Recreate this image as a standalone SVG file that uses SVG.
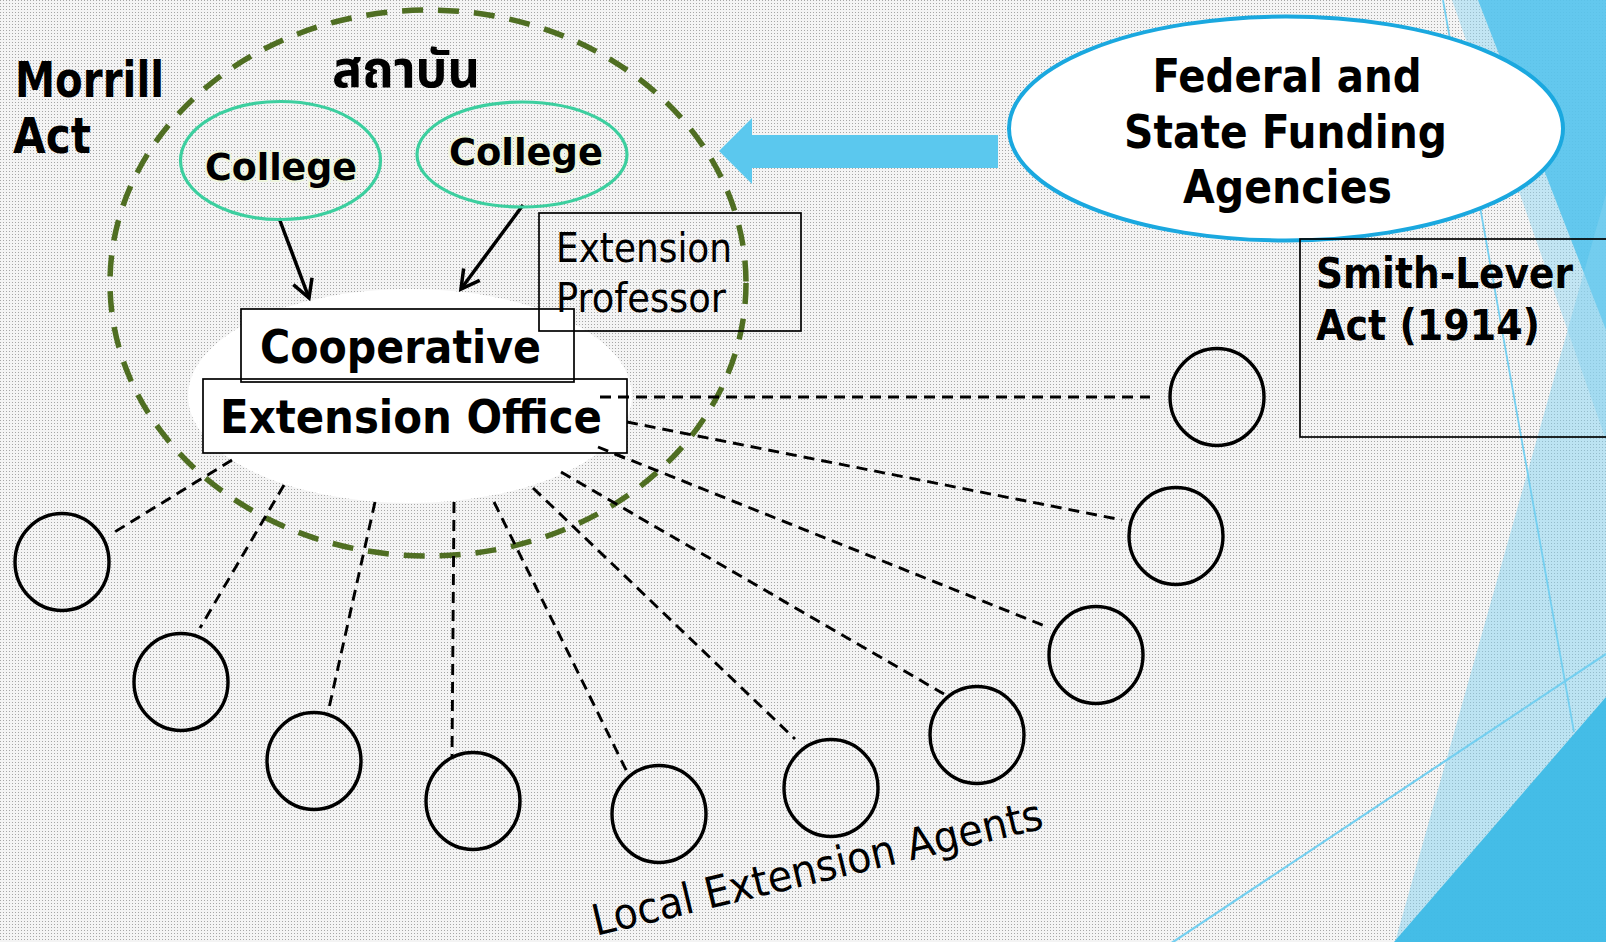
<svg xmlns="http://www.w3.org/2000/svg" width="1606" height="942" viewBox="0 0 1606 942">
<defs>
<pattern id="dots" width="3" height="3" patternUnits="userSpaceOnUse">
<rect width="3" height="3" fill="#f4f4f4"/>
<rect width="1" height="1" fill="#a6a6a6"/>
</pattern>
<marker id="open" markerUnits="userSpaceOnUse" markerWidth="26" markerHeight="26" viewBox="0 0 26 26" refX="22" refY="13" orient="auto">
<path d="M4,3 L22,13 L4,23" fill="none" stroke="#000" stroke-width="3.5" stroke-linejoin="miter"/>
</marker>
<style>
.b{font-family:"DejaVu Sans","Noto Sans",sans-serif;font-weight:bold;font-stretch:condensed;fill:#000}
.r{font-family:"DejaVu Sans","Noto Sans",sans-serif;font-weight:normal;font-stretch:condensed;fill:#000}
.th{font-family:"Noto Sans Thai","Tahoma","DejaVu Sans","Noto Sans",sans-serif;font-weight:bold;fill:#000}
.agent{fill:none;stroke:#000;stroke-width:3.4}
.dash{stroke:#000;stroke-width:2.9;stroke-dasharray:11 7;fill:none}
.college{fill:none;stroke:#3ccf9f;stroke-width:3.2}
.box{fill:none;stroke:#000;stroke-width:1.7}
.halo{paint-order:stroke;stroke:#eef5dc;stroke-width:4;stroke-linejoin:round}
</style>
</defs>

<!-- background -->
<rect width="1606" height="942" fill="url(#dots)"/>

<!-- theme decorations -->
<g id="decor">
<polygon points="1452,0 1606,0 1606,440" fill="#8fd6f2" opacity="0.5"/>
<polygon points="1478,0 1606,0 1606,330" fill="#52c3ec" opacity="0.85"/>
<polygon points="1395,942 1606,194 1606,942" fill="#84d2f0" opacity="0.5"/>
<polygon points="1394,942 1606,697 1606,942" fill="#3dbbe6" opacity="0.95"/>
<line x1="1443" y1="0" x2="1574" y2="732" stroke="#74cff0" stroke-width="1.8"/>
<line x1="1170" y1="944" x2="1606" y2="654" stroke="#74cff0" stroke-width="2.2"/>
</g>

<!-- institution -->
<g id="institution">
<ellipse cx="428" cy="283" rx="318" ry="273" fill="none" stroke="#4f6e22" stroke-width="5.5" stroke-dasharray="21 15"/>
<text class="th" x="332" y="87" font-size="52" textLength="148" lengthAdjust="spacingAndGlyphs">สถาบัน</text>
</g>

<g id="morrill">
<text class="b" x="15" y="97" font-size="49" textLength="149" lengthAdjust="spacingAndGlyphs">Morrill</text>
<text class="b" x="13" y="153" font-size="49" textLength="78" lengthAdjust="spacingAndGlyphs">Act</text>
</g>

<g id="office-bg">
<ellipse cx="410" cy="396" rx="222" ry="107" fill="#fff"/>
</g>

<!-- connectors -->
<g id="connectors">
<line class="dash" x1="232" y1="460" x2="113" y2="533"/>
<line class="dash" x1="284" y1="485" x2="200" y2="628"/>
<line class="dash" x1="375" y1="502" x2="329" y2="708"/>
<line class="dash" x1="454" y1="502" x2="452" y2="758"/>
<line class="dash" x1="494" y1="502" x2="628" y2="774"/>
<line class="dash" x1="533" y1="488" x2="795" y2="739"/>
<line class="dash" x1="561" y1="472" x2="944" y2="694"/>
<line class="dash" x1="598" y1="447" x2="1045" y2="626"/>
<line class="dash" x1="627" y1="422" x2="1122" y2="520"/>
<line class="dash" x1="600" y1="397" x2="1150" y2="397"/>
<line x1="279" y1="218" x2="309" y2="298" stroke="#000" stroke-width="3.5" marker-end="url(#open)"/>
<line x1="523" y1="205" x2="461" y2="289" stroke="#000" stroke-width="3.5" marker-end="url(#open)"/>
<polygon id="funding-arrow" points="719,151 752,118 752,135 998,135 998,168 752,168 752,184" fill="#5bc8ee"/>
</g>

<g id="college1">
<ellipse class="college" cx="280.5" cy="160.5" rx="100" ry="59"/>
<text class="b halo" x="205" y="180" font-size="38" textLength="152" lengthAdjust="spacingAndGlyphs">College</text>
</g>
<g id="college2">
<ellipse class="college" cx="522" cy="154.5" rx="105" ry="52.5"/>
<text class="b halo" x="449" y="165" font-size="38" textLength="154" lengthAdjust="spacingAndGlyphs">College</text>
</g>

<g id="cooperative">
<rect x="241" y="309" width="333" height="73" fill="#fff" stroke="#000" stroke-width="1.7"/>
<text class="b" x="260" y="363" font-size="46" textLength="281" lengthAdjust="spacingAndGlyphs">Cooperative</text>
</g>
<g id="extension-office">
<rect x="203" y="383.5" width="424" height="69.5" fill="#fff"/>
<rect class="box" x="203" y="379" width="424" height="74"/>
<text class="b" x="220" y="433" font-size="46" textLength="382" lengthAdjust="spacingAndGlyphs">Extension Office</text>
</g>
<line class="dash" x1="600" y1="397" x2="627" y2="397"/>
<line class="dash" x1="598" y1="447" x2="627" y2="459"/>

<g id="extension-professor">
<rect class="box" x="539" y="213" width="262" height="118"/>
<text class="r" x="556" y="262" font-size="41" textLength="176" lengthAdjust="spacingAndGlyphs">Extension</text>
<text class="r" x="556" y="312" font-size="41" textLength="170" lengthAdjust="spacingAndGlyphs">Professor</text>
</g>

<g id="funding">
<ellipse cx="1286" cy="128.5" rx="277" ry="112" fill="#fff" stroke="#1aa8df" stroke-width="4"/>
<text class="b" x="1287" y="92" font-size="47" text-anchor="middle" textLength="269" lengthAdjust="spacingAndGlyphs">Federal and</text>
<text class="b" x="1285.5" y="148" font-size="47" text-anchor="middle" textLength="323" lengthAdjust="spacingAndGlyphs">State Funding</text>
<text class="b" x="1287.5" y="203" font-size="47" text-anchor="middle" textLength="209" lengthAdjust="spacingAndGlyphs">Agencies</text>
</g>

<g id="smith-lever">
<rect class="box" x="1300" y="239" width="310" height="198"/>
<text class="b" x="1316" y="288" font-size="42" textLength="257" lengthAdjust="spacingAndGlyphs">Smith-Lever</text>
<text class="b" x="1316" y="340" font-size="42" textLength="224" lengthAdjust="spacingAndGlyphs">Act (1914)</text>
</g>

<g id="agents">
<ellipse id="agent1" class="agent" cx="62" cy="562" rx="47" ry="48.5"/>
<ellipse id="agent2" class="agent" cx="181" cy="682" rx="47" ry="48.5"/>
<ellipse id="agent3" class="agent" cx="314" cy="761" rx="47" ry="48.5"/>
<ellipse id="agent4" class="agent" cx="473" cy="801" rx="47" ry="48.5"/>
<ellipse id="agent5" class="agent" cx="659" cy="814" rx="47" ry="48.5"/>
<ellipse id="agent6" class="agent" cx="831" cy="788" rx="47" ry="48.5"/>
<ellipse id="agent7" class="agent" cx="977" cy="735" rx="47" ry="48.5"/>
<ellipse id="agent8" class="agent" cx="1096" cy="655" rx="47" ry="48.5"/>
<ellipse id="agent9" class="agent" cx="1176" cy="536" rx="47" ry="48.5"/>
<ellipse id="agent10" class="agent" cx="1217" cy="397" rx="47" ry="48.5"/>
<text class="r" transform="translate(596,936) rotate(-13.5)" font-size="43" textLength="462" lengthAdjust="spacingAndGlyphs">Local Extension Agents</text>
</g>
</svg>
